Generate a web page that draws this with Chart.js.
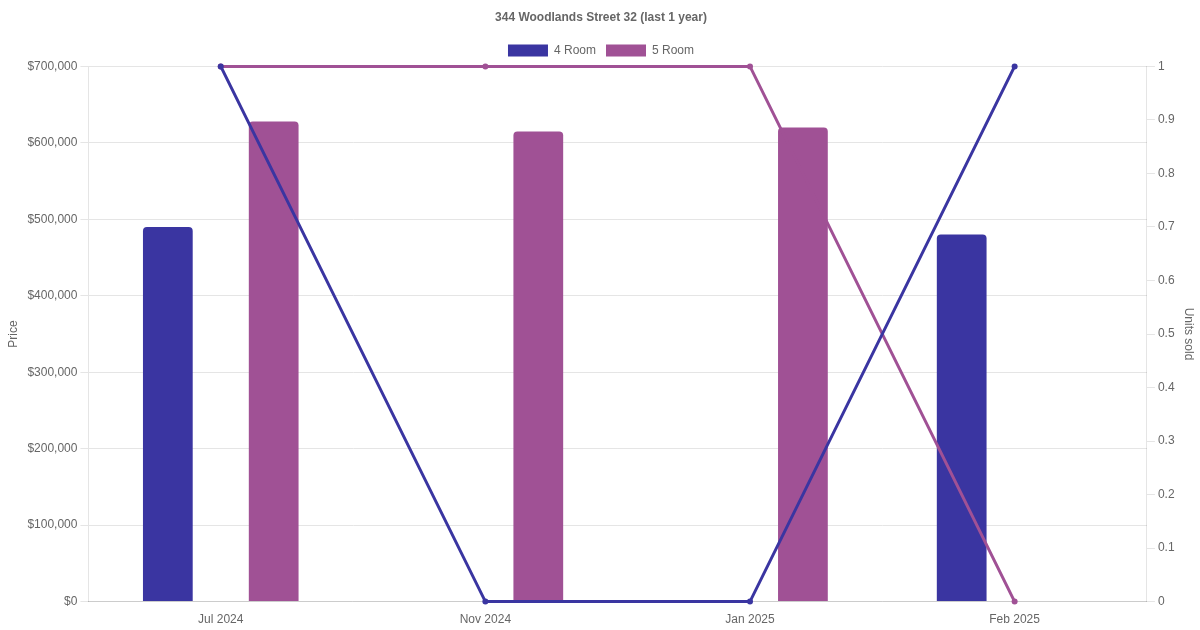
<!DOCTYPE html>
<html>
<head>
<meta charset="utf-8">
<script src="https://cdn.jsdelivr.net/npm/chart.js@4"></script>
<style>
  html, body { margin: 0; padding: 0; background: #fff; }
  #wrap { width: 1200px; height: 630px; }
</style>
</head>
<body>
<div id="wrap"><canvas id="chart"></canvas></div>
<script>
// data
const months = ["Jul 2024", "Nov 2024", "Jan 2025", "Feb 2025"];
const price4Room = [490000, null, null, 480000];
const price5Room = [628000, 615000, 620000, null];
const units4Room = [1, 0, 0, 1];
const units5Room = [1, 1, 1, 0];

const color4 = "#3a35a1";
const color5 = "#a05195";

Chart.defaults.font.family = "'Liberation Sans', Arial, sans-serif";
Chart.defaults.color = "#666";

const ctx = document.getElementById("chart");
let chart = new Chart(ctx, {
  type: "bar",
  data: {
    labels: months,
    datasets: [
      {
        label: "4 Room",
        data: price4Room,
        backgroundColor: color4,
        borderRadius: 4,
        borderSkipped: "bottom",
        barPercentage: 0.47,
        categoryPercentage: 0.8,
        yAxisID: "y",
        order: 2,
      },
      {
        label: "5 Room",
        data: price5Room,
        backgroundColor: color5,
        borderRadius: 4,
        borderSkipped: "bottom",
        barPercentage: 0.47,
        categoryPercentage: 0.8,
        yAxisID: "y",
        order: 2,
      },
      {
        type: "line",
        label: "4 Room units",
        data: units4Room,
        borderColor: color4,
        backgroundColor: color4,
        borderWidth: 3,
        pointRadius: 3,
        pointBorderWidth: 0,
        clip: false,
        yAxisID: "y1",
        order: 1,
      },
      {
        type: "line",
        label: "5 Room units",
        data: units5Room,
        borderColor: color5,
        backgroundColor: color5,
        borderWidth: 3,
        pointRadius: 3,
        pointBorderWidth: 0,
        clip: false,
        yAxisID: "y1",
        order: 1,
      },
    ],
  },
  options: {
    responsive: true,
    maintainAspectRatio: false,
    animation: false,
    layout: { padding: { left: 2, right: 0, top: 0, bottom: 0 } },
    plugins: {
      title: {
        display: true,
        text: "344 Woodlands Street 32 (last 1 year)",
        font: { size: 12, weight: "bold" },
        color: "#666",
        padding: { top: 10, bottom: 10 },
      },
      legend: {
        labels: {
          boxWidth: 40,
          boxHeight: 12,
          filter: (item) => !item.text.includes("units"),
        },
      },
    },
    scales: {
      x: {
        grid: { display: false },
        border: { color: "#ccc" },
        ticks: { font: { size: 12 } },
      },
      y: {
        position: "left",
        min: 0,
        max: 700000,
        ticks: {
          stepSize: 100000,
          font: { size: 12 },
          callback: (v) => "$" + v.toLocaleString("en-US"),
        },
        title: { display: true, text: "Price", font: { size: 12 } },
        grid: { color: "#e5e5e5" },
      },
      y1: {
        position: "right",
        min: 0,
        max: 1,
        ticks: {
          stepSize: 0.1,
          font: { size: 12 },
          callback: (v) => String(Math.round(v * 10) / 10),
        },
        title: { display: true, text: "Units sold", font: { size: 12 } },
        grid: { drawOnChartArea: false, color: "#e5e5e5" },
      },
    },
  },
});
</script>
</body>
</html>
